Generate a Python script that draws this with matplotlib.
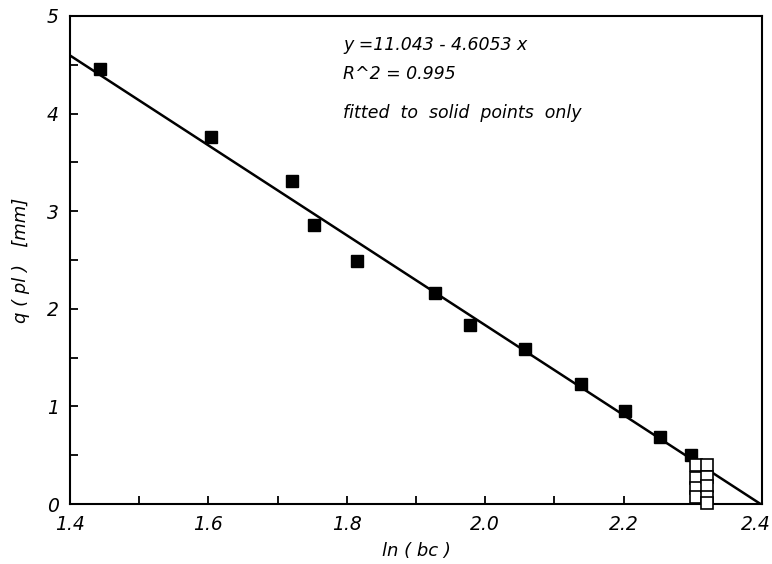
import matplotlib
matplotlib.use('Agg')

import matplotlib.pyplot as plt
import matplotlib.transforms as mtransforms
from matplotlib.ticker import MultipleLocator
import numpy as np

# Solid points (used for the fit)
x_solid = [1.443, 1.604, 1.721, 1.753, 1.815, 1.927, 1.978, 2.058, 2.138, 2.202, 2.253, 2.297]
y_solid = [4.46, 3.76, 3.31, 2.86, 2.49, 2.16, 1.83, 1.59, 1.23, 0.95, 0.69, 0.50]

# Open points (excluded from the fit)
x_open = [2.305, 2.305, 2.305, 2.305, 2.320, 2.320, 2.320, 2.320, 2.320]
y_open = [0.40, 0.27, 0.16, 0.07, 0.40, 0.28, 0.18, 0.07, 0.01]

# Regression line y = a + b x
fit_a = 11.043
fit_b = -4.6053
fit_x = [1.4, 2.4]

x_ticks = [1.4, 1.6, 1.8, 2.0, 2.2, 2.4]
x_ticklabels = ['1.4', '1.6', '1.8', '2.0', '2.2', '2.4']

plt.rcParams['font.family'] = ['DejaVu Sans']
plt.rcParams['font.style'] = 'italic'

fig = plt.figure(figsize=(7.72, 5.64), dpi=100)
ax = fig.add_axes([70 / 772, 1 - 504 / 564, 692 / 772, 488 / 564])

fx = np.array(fit_x)
ax.plot(fx, fit_a + fit_b * fx, color='black', linewidth=1.8, zorder=2)

ax.plot(x_solid, y_solid, linestyle='none', marker='s', markersize=8.5,
        markerfacecolor='black', markeredgecolor='black', zorder=3)
ax.plot(x_open, y_open, linestyle='none', marker='s', markersize=8.5,
        markerfacecolor='white', markeredgecolor='black', markeredgewidth=1.2,
        zorder=3, clip_on=False)

ax.set_xlim(1.4, 2.4)
ax.set_ylim(0, 5)
ax.xaxis.set_minor_locator(MultipleLocator(0.1))
ax.yaxis.set_major_locator(MultipleLocator(1))
ax.yaxis.set_minor_locator(MultipleLocator(0.5))
ax.set_xticks(x_ticks)
ax.set_xticklabels(x_ticklabels)

ax.tick_params(which='both', direction='in', length=6, width=1.3,
               top=False, right=False, labelsize=13.5)
ax.tick_params(axis='x', pad=8)
ax.tick_params(axis='y', pad=8)
for spine in ax.spines.values():
    spine.set_linewidth(1.5)

# keep the last x label inside the figure edge
last = ax.get_xticklabels()[-1]
last.set_transform(last.get_transform() +
                   mtransforms.ScaledTranslation(-6 / 100, 0, fig.dpi_scale_trans))

ax.set_xlabel('ln ( bc )', fontsize=13, labelpad=6)
ax.set_ylabel('q ( pl )   [mm]', fontsize=13, labelpad=12)

ax.text(0.395, 0.930, 'y =11.043 - 4.6053 x', transform=ax.transAxes, fontsize=12.5)
ax.text(0.395, 0.870, 'R^2 = 0.995', transform=ax.transAxes, fontsize=12.5)
ax.text(0.395, 0.790, 'fitted  to  solid  points  only', transform=ax.transAxes, fontsize=12.5)

plt.savefig('out.png', dpi=100)
plt.close(fig)
